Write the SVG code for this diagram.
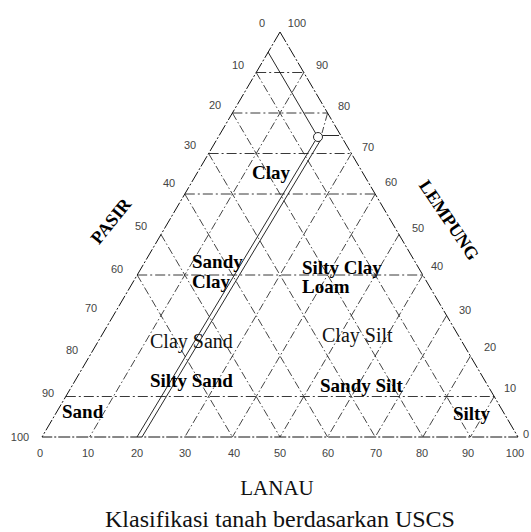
<svg xmlns="http://www.w3.org/2000/svg" width="531" height="532" viewBox="0 0 531 532">
  <style>
    .edge { stroke: #111; stroke-width: 1; fill: none; stroke-dasharray: 12 2 2 2; }
    .grid { stroke: #222; stroke-width: 0.85; fill: none; stroke-dasharray: 8 2.5 1.5 2.5; }
    .hgrid { stroke: #222; stroke-width: 0.9; fill: none; stroke-dasharray: 10 3 2 3; }
    .aline { stroke: #111; stroke-width: 0.9; fill: none; }
    .num { font-family: "Liberation Sans", Arial, sans-serif; font-size: 11px; fill: #444; text-anchor: middle; }
    .zone { font-family: "Liberation Serif", "Times New Roman", serif; font-size: 19px; font-weight: bold; fill: #000; }
    .zone-r { font-family: "Liberation Serif", "Times New Roman", serif; font-size: 20px; fill: #111; }
    .axis { font-family: "Liberation Serif", "Times New Roman", serif; font-size: 18px; font-weight: bold; fill: #000; text-anchor: middle; }
    .title { font-family: "Liberation Serif", "Times New Roman", serif; fill: #111; text-anchor: middle; }
  </style>

  <!-- triangle outline and grid -->
  <g id="connectors">
    <path class="edge" d="M280 32 L42 437 L518 437 Z"/>

    <!-- constant-clay lines -->
    <line class="hgrid" x1="256.2" y1="72.5" x2="303.8" y2="72.5"/>
    <line class="hgrid" x1="232.4" y1="113" x2="327.6" y2="113"/>
    <line class="hgrid" x1="208.6" y1="153.5" x2="351.4" y2="153.5"/>
    <line class="hgrid" x1="184.8" y1="194" x2="375.2" y2="194"/>
    <line class="hgrid" x1="137.2" y1="275" x2="422.8" y2="275"/>
    <line class="hgrid" x1="65.8" y1="396.5" x2="494.2" y2="396.5"/>

    <!-- lines parallel to the left side -->
    <line class="grid" x1="303.8" y1="72.5" x2="89.6" y2="437"/>
    <line class="grid" x1="327.6" y1="113" x2="322" y2="133"/>
    <line class="grid" x1="351.4" y1="153.5" x2="184.8" y2="437"/>
    <line class="grid" x1="375.2" y1="194" x2="232.4" y2="437"/>
    <line class="grid" x1="399" y1="234.5" x2="280" y2="437"/>
    <line class="grid" x1="422.8" y1="275" x2="327.6" y2="437"/>
    <line class="grid" x1="446.6" y1="315.5" x2="375.2" y2="437"/>
    <line class="grid" x1="470.4" y1="356" x2="422.8" y2="437"/>
    <line class="grid" x1="494.2" y1="396.5" x2="470.4" y2="437"/>

    <!-- lines parallel to the right side -->
    <line class="grid" x1="256.2" y1="72.5" x2="470.4" y2="437"/>
    <line class="grid" x1="232.4" y1="113" x2="422.8" y2="437"/>
    <line class="grid" x1="208.6" y1="153.5" x2="375.2" y2="437"/>
    <line class="grid" x1="184.8" y1="194" x2="327.6" y2="437"/>
    <line class="grid" x1="161" y1="234.5" x2="280" y2="437"/>
    <line class="grid" x1="137.2" y1="275" x2="232.4" y2="437"/>

    <!-- boundary line with marker point -->
    <line class="aline" x1="268" y1="52" x2="315.5" y2="133"/>
    <line class="aline" x1="315" y1="141" x2="137" y2="437"/>
    <line class="aline" x1="320" y1="141" x2="142" y2="437"/>
    <circle class="aline" cx="318" cy="137" r="4.5"/>
    <line class="aline" x1="322.5" y1="135.5" x2="339" y2="135.5"/>
  </g>

  <!-- PASIR scale (left) -->
  <g id="scale-pasir">
    <text class="num" x="262" y="27">0</text>
    <text class="num" x="238" y="69">10</text>
    <text class="num" x="215" y="109">20</text>
    <text class="num" x="190" y="149">30</text>
    <text class="num" x="169" y="187">40</text>
    <text class="num" x="141" y="230">50</text>
    <text class="num" x="117" y="273">60</text>
    <text class="num" x="91" y="312">70</text>
    <text class="num" x="72" y="354">80</text>
    <text class="num" x="48" y="397">90</text>
    <text class="num" x="20" y="441">100</text>
    <text class="axis" transform="translate(111 221) rotate(-51)" y="6">PASIR</text>
  </g>

  <!-- LEMPUNG scale (right) -->
  <g id="scale-lempung">
    <text class="num" x="297" y="27">100</text>
    <text class="num" x="322" y="69">90</text>
    <text class="num" x="344" y="110">80</text>
    <text class="num" x="368" y="151">70</text>
    <text class="num" x="391" y="186">60</text>
    <text class="num" x="418" y="232">50</text>
    <text class="num" x="437" y="270">40</text>
    <text class="num" x="465" y="314">30</text>
    <text class="num" x="490" y="351">20</text>
    <text class="num" x="510" y="392">10</text>
    <text class="num" x="526" y="438">0</text>
    <text class="axis" transform="translate(449 220) rotate(56)" y="6">LEMPUNG</text>
  </g>

  <!-- LANAU scale (bottom) -->
  <g id="scale-lanau">
    <text class="num" x="40" y="457">0</text>
    <text class="num" x="88" y="457">10</text>
    <text class="num" x="137" y="457">20</text>
    <text class="num" x="185" y="457">30</text>
    <text class="num" x="234" y="457">40</text>
    <text class="num" x="280" y="457">50</text>
    <text class="num" x="328" y="457">60</text>
    <text class="num" x="376" y="457">70</text>
    <text class="num" x="422" y="457">80</text>
    <text class="num" x="468" y="457">90</text>
    <text class="num" x="515" y="457">100</text>
    <text class="title" x="277" y="495" font-size="21">LANAU</text>
  </g>

  <!-- soil classes -->
  <g id="zone-clay"><text class="zone" x="252" y="179">Clay</text></g>
  <g id="zone-sandy-clay">
    <text class="zone" x="192" y="268">Sandy</text>
    <text class="zone" x="192" y="288">Clay</text>
  </g>
  <g id="zone-silty-clay-loam">
    <text class="zone" x="302" y="274">Silty Clay</text>
    <text class="zone" x="302" y="293">Loam</text>
  </g>
  <g id="zone-clay-sand"><text class="zone-r" x="150" y="348">Clay Sand</text></g>
  <g id="zone-clay-silt"><text class="zone-r" x="322" y="342">Clay Silt</text></g>
  <g id="zone-silty-sand"><text class="zone" x="150" y="387">Silty Sand</text></g>
  <g id="zone-sandy-silt"><text class="zone" x="320" y="392">Sandy Silt</text></g>
  <g id="zone-sand"><text class="zone" x="62" y="418">Sand</text></g>
  <g id="zone-silty"><text class="zone" x="453" y="420">Silty</text></g>

  <g id="caption">
    <text class="title" x="280" y="527" font-size="24">Klasifikasi tanah berdasarkan USCS</text>
  </g>
</svg>
